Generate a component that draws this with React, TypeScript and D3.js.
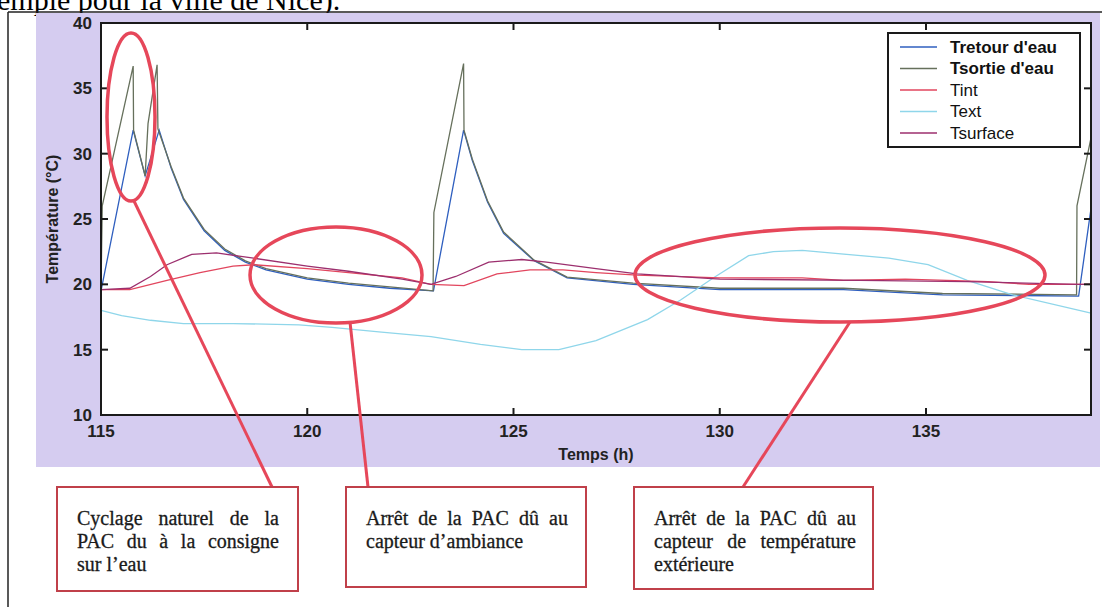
import { useEffect, useRef } from 'react';
import * as d3 from 'd3';

// time (h) / temperature (°C)
const retourT = [115, 115.78, 116.07, 116.41, 116.7, 117.0, 117.5, 118.0, 118.5, 119, 120, 121, 122, 123.06, 123.79, 124.0, 124.37, 124.76, 125.5, 126.3, 127.9, 130, 133, 135.4, 138.7, 139];
const retourV = [19.5, 31.8, 28.3, 31.8, 28.9, 26.5, 24.1, 22.6, 21.7, 21.1, 20.4, 20.0, 19.7, 19.5, 31.8, 29.5, 26.3, 23.9, 21.8, 20.5, 20.0, 19.6, 19.6, 19.2, 19.1, 25.8];

const sortieT = [115, 115.03, 115.78, 115.79, 116.07, 116.14, 116.36, 116.38, 116.7, 117.0, 117.5, 118.0, 118.5, 119, 120, 121, 122, 123.05, 123.07, 123.79, 123.8, 124.0, 124.37, 124.76, 125.5, 126.3, 127.9, 130, 133, 135.4, 138.65, 138.66, 139];
const sortieV = [19.6, 26.0, 36.7, 31.8, 28.3, 32.3, 36.8, 31.9, 29.0, 26.6, 24.2, 22.7, 21.8, 21.2, 20.5, 20.1, 19.8, 19.5, 25.5, 36.9, 31.8, 29.6, 26.4, 24.0, 21.85, 20.55, 20.1, 19.7, 19.7, 19.3, 19.2, 26.0, 31.2];

const tintT = [115, 115.7, 116.6, 117.4, 118.2, 118.7, 120, 121, 122.3, 123, 123.8, 124.6, 125.4, 126.2, 127, 128, 130, 132, 133, 134.5, 135.5, 136.5, 137.5, 139];
const tintV = [19.6, 19.6, 20.3, 20.9, 21.4, 21.5, 21.2, 20.9, 20.5, 20.0, 19.9, 20.8, 21.1, 21.1, 20.9, 20.7, 20.5, 20.5, 20.3, 20.4, 20.3, 20.2, 20.0, 20.0];

const textT = [115, 115.5, 116.2, 117, 118.2, 119.8, 120.6, 121.8, 123, 124.2, 125.2, 126.1, 127, 128.25, 129.05, 129.85, 130.7, 131.3, 132, 134.1, 135.05, 136, 137.1, 139];
const textV = [18.0, 17.6, 17.25, 17.0, 17.0, 16.9, 16.7, 16.35, 16.0, 15.4, 15.0, 15.0, 15.7, 17.3, 18.8, 20.5, 22.2, 22.5, 22.6, 22.0, 21.5, 20.3, 19.2, 17.8];

const surfT = [115, 115.7, 116.2, 116.6, 117.2, 117.8, 118.7, 120, 121, 122.3, 123.0, 123.6, 124.4, 125.2, 125.8, 127, 128, 130, 133.4, 136, 138.7, 139];
const surfV = [19.6, 19.7, 20.6, 21.5, 22.3, 22.4, 22.0, 21.4, 21.0, 20.4, 20.0, 20.6, 21.7, 21.9, 21.7, 21.2, 20.8, 20.4, 20.3, 20.2, 20.0, 20.0];

const seriesNames = ["Tretour d'eau", "Tsortie d'eau", 'Tint', 'Text', 'Tsurface'];
const seriesColors = ['#2f5fbf', '#66705c', '#e2465e', '#8fd6ea', '#9c2f6e'];

const xTicks = [115, 120, 125, 130, 135];
const yTicks = [10, 15, 20, 25, 30, 35, 40];

const notes = [
  ['Cyclage naturel de la', 'PAC du à la consigne', 'sur l’eau'],
  ['Arrêt de la PAC dû au', 'capteur d’ambiance'],
  ['Arrêt de la PAC dû au', 'capteur de température', 'extérieure'],
];

const W = 1102;
const H = 607;
const plot = { left: 101, right: 1091, top: 23, bottom: 415 };
const red = '#e6475a';
const justifyWidth = 202;

export default function App() {
  const svgRef = useRef<SVGSVGElement>(null);

  // justify the note lines by spreading the words
  useEffect(() => {
    if (!svgRef.current) return;
    d3.select(svgRef.current).selectAll<SVGTextElement, unknown>('text.justify').each(function () {
      const el = this;
      el.setAttribute('word-spacing', '0');
      const w = el.getComputedTextLength();
      const gaps = (el.textContent || '').split(' ').length - 1;
      if (gaps > 0) el.setAttribute('word-spacing', String(Math.max(0, (justifyWidth - w) / gaps)));
    });
  }, []);

  const x = d3.scaleLinear().domain([115, 139]).range([plot.left, plot.right]);
  const y = d3.scaleLinear().domain([10, 40]).range([plot.bottom, plot.top]);
  const line = d3.line<[number, number]>().x(d => x(d[0])).y(d => y(d[1]));

  const series = [
    d3.zip(retourT, retourV),
    d3.zip(sortieT, sortieV),
    d3.zip(textT, textV),
    d3.zip(tintT, tintV),
    d3.zip(surfT, surfV),
  ];
  const colorOrder = [0, 1, 3, 2, 4];

  const boxes = [
    { x0: 57, x1: 298, y0: 487, y1: 591 },
    { x0: 346, x1: 586, y0: 487, y1: 587 },
    { x0: 634, x1: 873, y0: 487, y1: 589 },
  ];
  const sans = 'Liberation Sans, Arial, sans-serif';
  const serif = 'Liberation Serif, Times New Roman, serif';

  return (
    <svg ref={svgRef} width={W} height={H} style={{ position: 'absolute', left: 0, top: 0, background: '#fff' }}>
      {/* caption of the page above, cut by the crop */}
      <text x={-3} y={10} fontFamily={serif} fontSize={30}>emple pour la ville de Nice).</text>
      <line x1={8} x2={W} y1={12} y2={12} stroke="#222" strokeWidth={1.5} />
      <line x1={8} x2={8} y1={12} y2={H} stroke="#222" strokeWidth={1.5} />

      <rect x={36} y={13} width={1064} height={454} fill="#d5ccf0" />
      <rect x={plot.left} y={plot.top} width={plot.right - plot.left} height={plot.bottom - plot.top} fill="#fff" />

      {series.map((s, i) => (
        <path key={i} d={line(s as [number, number][]) || ''} fill="none"
          stroke={seriesColors[colorOrder[i]]} strokeWidth={1.3} />
      ))}

      {/* axes box with inward ticks */}
      <rect x={plot.left} y={plot.top} width={plot.right - plot.left} height={plot.bottom - plot.top}
        fill="none" stroke="#1a1a1a" strokeWidth={2} />
      {xTicks.map(t => (
        <g key={'x' + t}>
          <line x1={x(t)} x2={x(t)} y1={plot.bottom} y2={plot.bottom - 7} stroke="#1a1a1a" strokeWidth={2} />
          <line x1={x(t)} x2={x(t)} y1={plot.top} y2={plot.top + 7} stroke="#1a1a1a" strokeWidth={2} />
          <text x={x(t)} y={437} textAnchor="middle" fontFamily={sans} fontWeight="bold" fontSize={17} fill="#222">{t}</text>
        </g>
      ))}
      {yTicks.map(t => (
        <g key={'y' + t}>
          <line x1={plot.left} x2={plot.left + 7} y1={y(t)} y2={y(t)} stroke="#1a1a1a" strokeWidth={2} />
          <line x1={plot.right} x2={plot.right - 7} y1={y(t)} y2={y(t)} stroke="#1a1a1a" strokeWidth={2} />
          <text x={92} y={y(t)} dy="0.35em" textAnchor="end" fontFamily={sans} fontWeight="bold" fontSize={17} fill="#222">{t}</text>
        </g>
      ))}
      <text x={596} y={460} textAnchor="middle" fontFamily={sans} fontWeight="bold" fontSize={16} fill="#222">Temps (h)</text>
      <text transform="translate(58,219) rotate(-90)" textAnchor="middle" fontFamily={sans} fontWeight="bold" fontSize={16} fill="#222">Température (°C)</text>

      {/* legend */}
      <rect x={888} y={33} width={192} height={114} fill="#fff" stroke="#1a1a1a" strokeWidth={2} />
      {seriesNames.map((n, i) => (
        <g key={n} transform={`translate(0,${47 + i * 21.5})`}>
          <line x1={900} x2={937} y1={0} y2={0} stroke={seriesColors[i]} strokeWidth={1.5} />
          <text x={950} y={0} dy="0.35em" fontFamily={sans} fontSize={17} fontWeight={i < 2 ? 'bold' : 'normal'} fill="#111">{n}</text>
        </g>
      ))}

      {/* annotations */}
      <ellipse cx={131} cy={117} rx={24} ry={84} fill="none" stroke={red} strokeWidth={3.5} />
      <ellipse cx={336} cy={275} rx={86} ry={48} fill="none" stroke={red} strokeWidth={3.5} />
      <ellipse cx={840} cy={275} rx={205} ry={47} fill="none" stroke={red} strokeWidth={3.5} />
      <line x1={134} y1={201} x2={272} y2={487} stroke={red} strokeWidth={3} />
      <line x1={350} y1={322} x2={368} y2={487} stroke={red} strokeWidth={3} />
      <line x1={850} y1={322} x2={743} y2={487} stroke={red} strokeWidth={3} />

      {boxes.map((b, i) => (
        <g key={i}>
          <rect x={b.x0} y={b.y0} width={b.x1 - b.x0} height={b.y1 - b.y0} fill="#fff" stroke="#c0404a" strokeWidth={2} />
          {notes[i].map((l, j) => {
            const last = j === notes[i].length - 1;
            return (
              <text key={j} className={last ? undefined : 'justify'} x={b.x0 + 20} y={b.y0 + 38 + j * 23}
                fontFamily={serif} fontSize={20} fill="#1a1a1a" stroke="#1a1a1a" strokeWidth={0.3}>{l}</text>
            );
          })}
        </g>
      ))}
    </svg>
  );
}
